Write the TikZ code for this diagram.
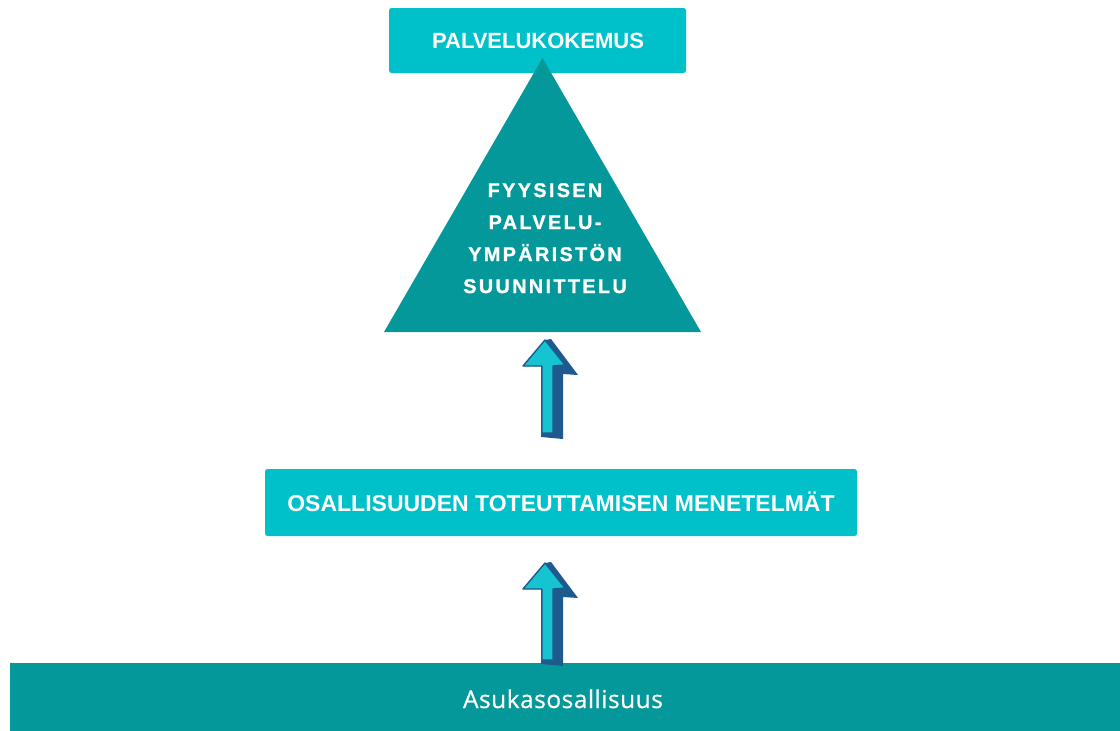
\documentclass[tikz,border=0pt]{standalone}
\usepackage{fontspec}
\setmainfont{Liberation Sans}
\newfontfamily\trifont[LetterSpace=12, FakeBold=1.2]{Liberation Sans}
\newfontfamily\barfont[LetterSpace=2, FakeBold=0.6]{Open Sans}
\definecolor{cyanbox}{HTML}{00C1CA}
\definecolor{tealc}{HTML}{05989B}
\definecolor{arrblue}{HTML}{1F5A8E}
\definecolor{arrcyan}{HTML}{16C3D0}
\tikzset{
  box/.style={fill=cyanbox, rounded corners=2.5pt, inner sep=0pt},
  boxtext/.style={text=white, font=\bfseries, anchor=base, inner sep=0pt},
  tritext/.style={text=white, font=\trifont\bfseries\fontsize{19.8}{32}\selectfont, align=center, anchor=base, inner sep=0pt},
}
\newcommand{\myuparrow}[2]{%
  \begin{scope}[shift={(#1)}]
    \fill[arrblue] (0,0) -- (6,-1) -- (33,35) -- (18,34) -- (18,#2+6) -- (-4,#2+4) -- (-4,26) -- (-22,26) -- cycle;
    \filldraw[fill=arrcyan, draw=arrblue, line width=1.4pt, line join=round]
      (0,0) -- (20,25) -- (8,26) -- (8,#2) -- (-3,#2) -- (-3,26) -- (-22,26) -- cycle;
  \end{scope}}
\begin{document}
\begin{tikzpicture}[x=1pt, y=-1pt]
\useasboundingbox (0,0) rectangle (1120,731);
% top box
\node[box, minimum width=297pt, minimum height=65pt] (top) at (537.5,40.5) {};
\node[boxtext, font=\bfseries\fontsize{22}{26}\selectfont] (toptext) at (538,48) {PALVELUKOKEMUS};
% triangle
\coordinate (apex) at (542.5,58);
\coordinate (bl) at (384,332);
\coordinate (br) at (701,332);
\fill[tealc] (bl) -- (apex) -- (br) -- cycle;
\node[tritext] (t1) at (545,197) {FYYSISEN};
\node[tritext] (t2) at (545,229) {PALVELU-};
\node[tritext] (t3) at (545,261) {YMPÄRISTÖN};
\node[tritext] (t4) at (545,293) {SUUNNITTELU};
% middle box
\node[box, minimum width=592pt, minimum height=67pt] (mid) at (561,502.5) {};
\node[boxtext, font=\bfseries\fontsize{23}{27}\selectfont] (midtext) at (561,511) {OSALLISUUDEN TOTEUTTAMISEN MENETELMÄT};
% bottom bar
\node[fill=tealc, minimum width=1110pt, minimum height=68pt, inner sep=0pt] (bar) at (565,697) {};
\node[text=white, font=\barfont\fontsize{24.5}{28}\selectfont, anchor=base, inner sep=0pt] (bartext) at (563,708) {Asukasosallisuus};
% arrows
\coordinate (a1) at (545,340);
\coordinate (a2) at (545,563);
\myuparrow{a1}{93}
\myuparrow{a2}{97}
\end{tikzpicture}
\end{document}
